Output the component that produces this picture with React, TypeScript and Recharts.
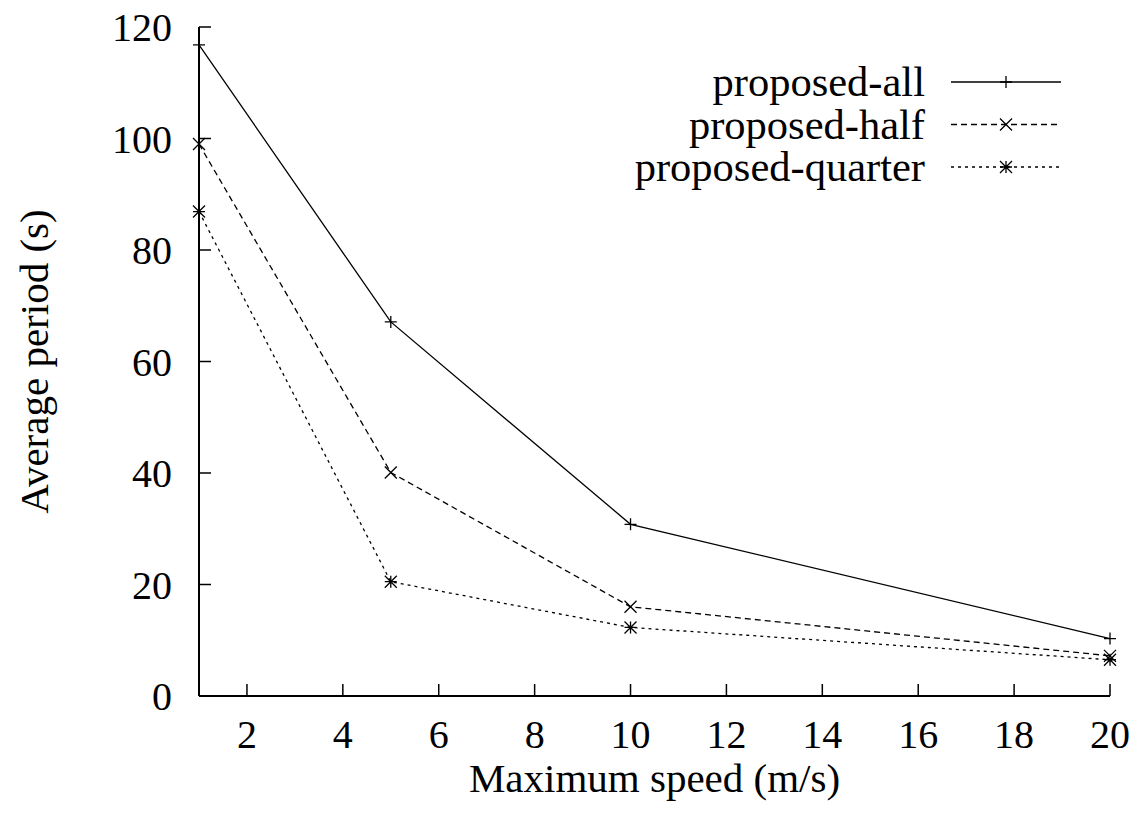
import { LineChart, Line, XAxis, YAxis, Legend, Label } from 'recharts'

const speeds = [1, 5, 10, 20]
const proposedAll = [116.8, 67.1, 30.8, 10.3]
const proposedHalf = [99.0, 40.1, 16.0, 7.2]
const proposedQuarter = [86.9, 20.5, 12.3, 6.5]

const xTicks = [2, 4, 6, 8, 10, 12, 14, 16, 18, 20]
const yTicks = [0, 20, 40, 60, 80, 100, 120]

const SERIES = [
  { key: 'all', name: 'proposed-all', dash: undefined, mark: 'plus' },
  { key: 'half', name: 'proposed-half', dash: '6 4', mark: 'cross' },
  { key: 'quarter', name: 'proposed-quarter', dash: '3 4', mark: 'star' },
]

const FONT = '"Liberation Serif", "Times New Roman", serif'

const data = speeds.map((s, i) => ({
  speed: s,
  all: proposedAll[i],
  half: proposedHalf[i],
  quarter: proposedQuarter[i],
}))

function markPath(kind: string, cx: number, cy: number, r = 6) {
  const plus = `M${cx - r},${cy}H${cx + r}M${cx},${cy - r}V${cy + r}`
  const cross = `M${cx - r},${cy - r}L${cx + r},${cy + r}M${cx - r},${cy + r}L${cx + r},${cy - r}`
  if (kind === 'plus') return plus
  if (kind === 'cross') return cross
  return plus + cross
}

function makeDot(kind: string) {
  return (props: any) => {
    const { cx, cy, index } = props
    if (cx == null || cy == null) return <g key={index} />
    return <path key={index} d={markPath(kind, cx, cy)} stroke="#000" strokeWidth={1.3} fill="none" />
  }
}

// legend is drawn in a zero-size box so it doesn't eat plot space
function LegendBox() {
  return (
    <div style={{ position: 'relative', width: 0, height: 0 }}>
      <svg width={470} height={130} style={{ position: 'absolute', left: 0, top: 0, overflow: 'visible' }}>
        {SERIES.map((s, i) => {
          const y = 27 + i * 42.5
          return (
            <g key={s.key}>
              <text x={325} y={y + 14} textAnchor="end" fontSize={42.5} fontFamily={FONT} fill="#000">
                {s.name}
              </text>
              <line x1={351} x2={461} y1={y} y2={y} stroke="#000" strokeWidth={1.3} strokeDasharray={s.dash} />
              <path d={markPath(s.mark, 406, y)} stroke="#000" strokeWidth={1.3} fill="none" />
            </g>
          )
        })}
      </svg>
    </div>
  )
}

const XTitle = (props: any) => {
  const { x, y, width } = props.viewBox
  return (
    <text x={x + width / 2} y={y + 96} textAnchor="middle" fontSize={41} fontFamily={FONT} fill="#000">
      Maximum speed (m/s)
    </text>
  )
}

const YTitle = (props: any) => {
  const { y, height } = props.viewBox
  const cy = y + height / 2
  return (
    <text x={40} y={cy} transform={`rotate(-90, 40, ${cy})`} textAnchor="middle" fontSize={41} fontFamily={FONT} fill="#000">
      Average period (s)
    </text>
  )
}

const tickStyle = { fontSize: 40, fill: '#000', fontFamily: FONT }
const axisLine = { stroke: '#000', strokeWidth: 2 }
const tickLine = { stroke: '#000', strokeWidth: 1.5 }

export default function App() {
  return (
    <div style={{ width: 1123, height: 807, fontFamily: FONT }}>
      <LineChart
        width={1123}
        height={807}
        data={data}
        margin={{ top: 19, right: 21, left: 0, bottom: 0 }}
        style={{ overflow: 'visible' }}
      >
        <XAxis
          dataKey="speed"
          type="number"
          domain={[1, 20]}
          ticks={xTicks}
          height={119}
          tickSize={-12}
          tickMargin={36}
          tick={tickStyle}
          axisLine={axisLine}
          tickLine={tickLine}
          interval={0}
        >
          <Label content={XTitle} />
        </XAxis>
        <XAxis
          xAxisId="top"
          orientation="top"
          type="number"
          domain={[1, 20]}
          ticks={xTicks}
          height={0}
          tickSize={-12}
          tickFormatter={() => ''}
          axisLine={axisLine}
          tickLine={tickLine}
          interval={0}
        />
        <YAxis
          type="number"
          domain={[0, 120]}
          ticks={yTicks}
          width={191}
          tickSize={-12}
          tickMargin={39}
          tick={tickStyle}
          axisLine={axisLine}
          tickLine={tickLine}
          interval={0}
        >
          <Label content={YTitle} />
        </YAxis>
        <YAxis
          yAxisId="right"
          orientation="right"
          type="number"
          domain={[0, 120]}
          ticks={yTicks}
          width={0}
          tickSize={-12}
          tickFormatter={() => ''}
          axisLine={axisLine}
          tickLine={tickLine}
          interval={0}
        />
        <Legend
          content={() => <LegendBox />}
          wrapperStyle={{ position: 'absolute', left: 592, top: 47, width: 0, height: 0 }}
        />
        {SERIES.map((s) => (
          <Line
            key={s.key}
            dataKey={s.key}
            name={s.name}
            type="linear"
            stroke="#000"
            strokeWidth={1.3}
            strokeDasharray={s.dash}
            dot={makeDot(s.mark)}
            activeDot={false}
            isAnimationActive={false}
          />
        ))}
      </LineChart>
    </div>
  )
}
